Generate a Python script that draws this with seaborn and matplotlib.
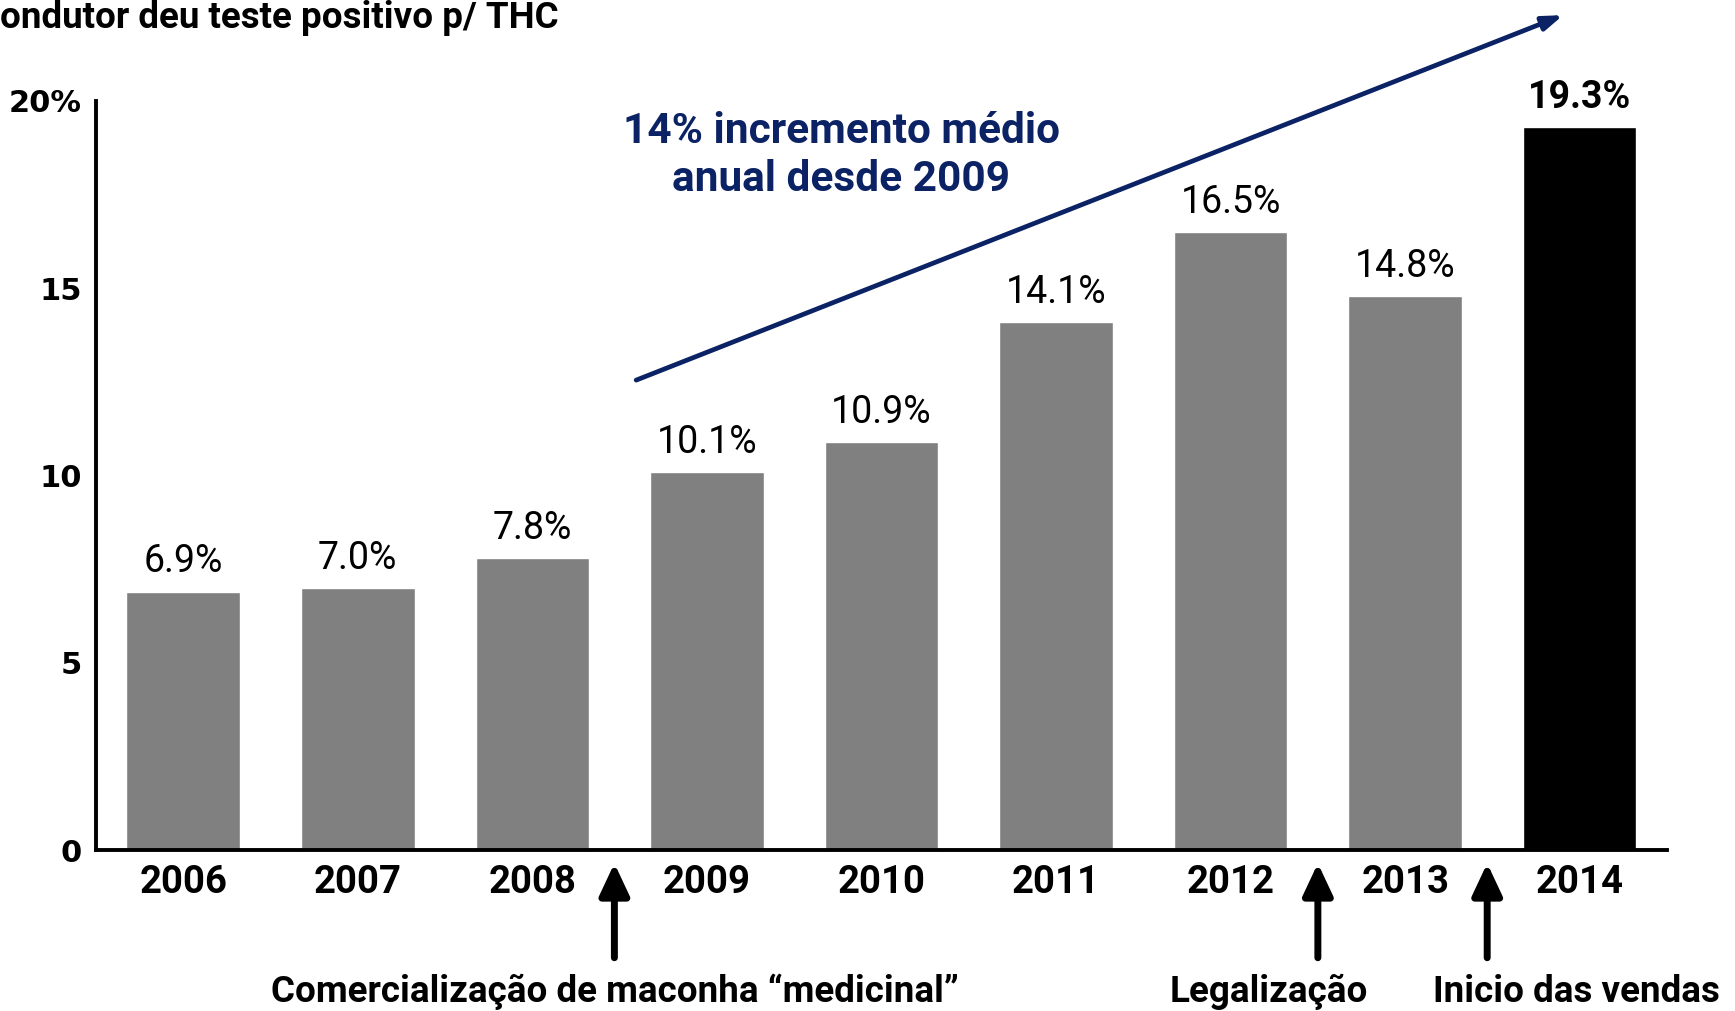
import numpy as np
import pandas as pd
import matplotlib
matplotlib.use("Agg")
import matplotlib.pyplot as plt
import seaborn as sns

# data
years = ['2006', '2007', '2008', '2009', '2010', '2011', '2012', '2013', '2014']
pct = [6.9, 7.0, 7.8, 10.1, 10.9, 14.1, 16.5, 14.8, 19.3]
bar_colors = ['#808080'] * 8 + ['#000000']
yticks = [0, 5, 10, 15, 20]
ytick_labels = ['0', '5', '10', '15', '20%']
events = ['Comercialização de maconha “medicinal”', 'Legalização', 'Inicio das vendas']
event_pos = [2.47, 6.5, 7.47]
event_text_x = [2.47, 6.22, 7.98]

sns.set_theme(style='white')
plt.rcParams['font.family'] = ['Roboto', 'DejaVu Sans']
plt.rcParams['text.color'] = 'black'

df = pd.DataFrame({'ano': years, 'pct': pct})

fig = plt.figure(figsize=(17.35, 10.11), dpi=100)
ax = fig.add_axes([0.0553, 0.1592, 0.9055, 0.7409])

sns.barplot(data=df, x='ano', y='pct', hue='ano', palette=bar_colors,
            legend=False, width=0.65, saturation=1, ax=ax)

ax.set_xlim(-0.5, 8.5)
ax.set_ylim(0, 20)
ax.set_xlabel('')
ax.set_ylabel('')

for s in ['top', 'right']:
    ax.spines[s].set_visible(False)
for s in ['left', 'bottom']:
    ax.spines[s].set_linewidth(2.8)
    ax.spines[s].set_color('black')

ax.set_yticks(yticks)
ax.set_yticklabels(ytick_labels, family='DejaVu Sans', fontweight='bold', fontsize=22)
ax.tick_params(axis='y', length=7, width=2.6, color='black', labelcolor='black',
               direction='out', pad=3)
ax.tick_params(axis='x', length=0, pad=10, labelcolor='black')
for lab in ax.get_xticklabels():
    lab.set_fontsize(27.5)
    lab.set_fontweight('bold')

# value labels
for i, v in enumerate(pct):
    last = i == len(pct) - 1
    ax.text(i, v + 0.3, f'{v:.1f}%', ha='center', va='bottom',
            fontsize=27, fontweight='bold' if last else 'normal', color='black')

# trend arrow
ax.annotate('', xy=(7.92, 22.32), xytext=(2.58, 12.52),
            arrowprops=dict(arrowstyle='-|>,head_length=1.0,head_width=0.35',
                            color='#0b2265', lw=3.4),
            annotation_clip=False)
ax.text(3.77, 18.55, '14% incremento médio\nanual desde 2009', ha='center', va='center',
        fontsize=30.5, fontweight='bold', color='#0b2265', linespacing=1.2)

# event arrows below axis
for x in event_pos:
    ax.annotate('', xy=(x, -0.28), xytext=(x, -2.95),
                arrowprops=dict(arrowstyle='-|>,head_length=1.6,head_width=0.75',
                                color='black', lw=5),
                annotation_clip=False)
for x, t in zip(event_text_x, events):
    ax.text(x, -3.78, t, ha='center', va='center', fontsize=26.5,
            fontweight='bold', color='black', clip_on=False)

fig.text(0.0, 0.982, 'ondutor deu teste positivo p/ THC', ha='left', va='center',
         fontsize=26.5, fontweight='bold', color='black')

fig.savefig('out.png', dpi=100)
